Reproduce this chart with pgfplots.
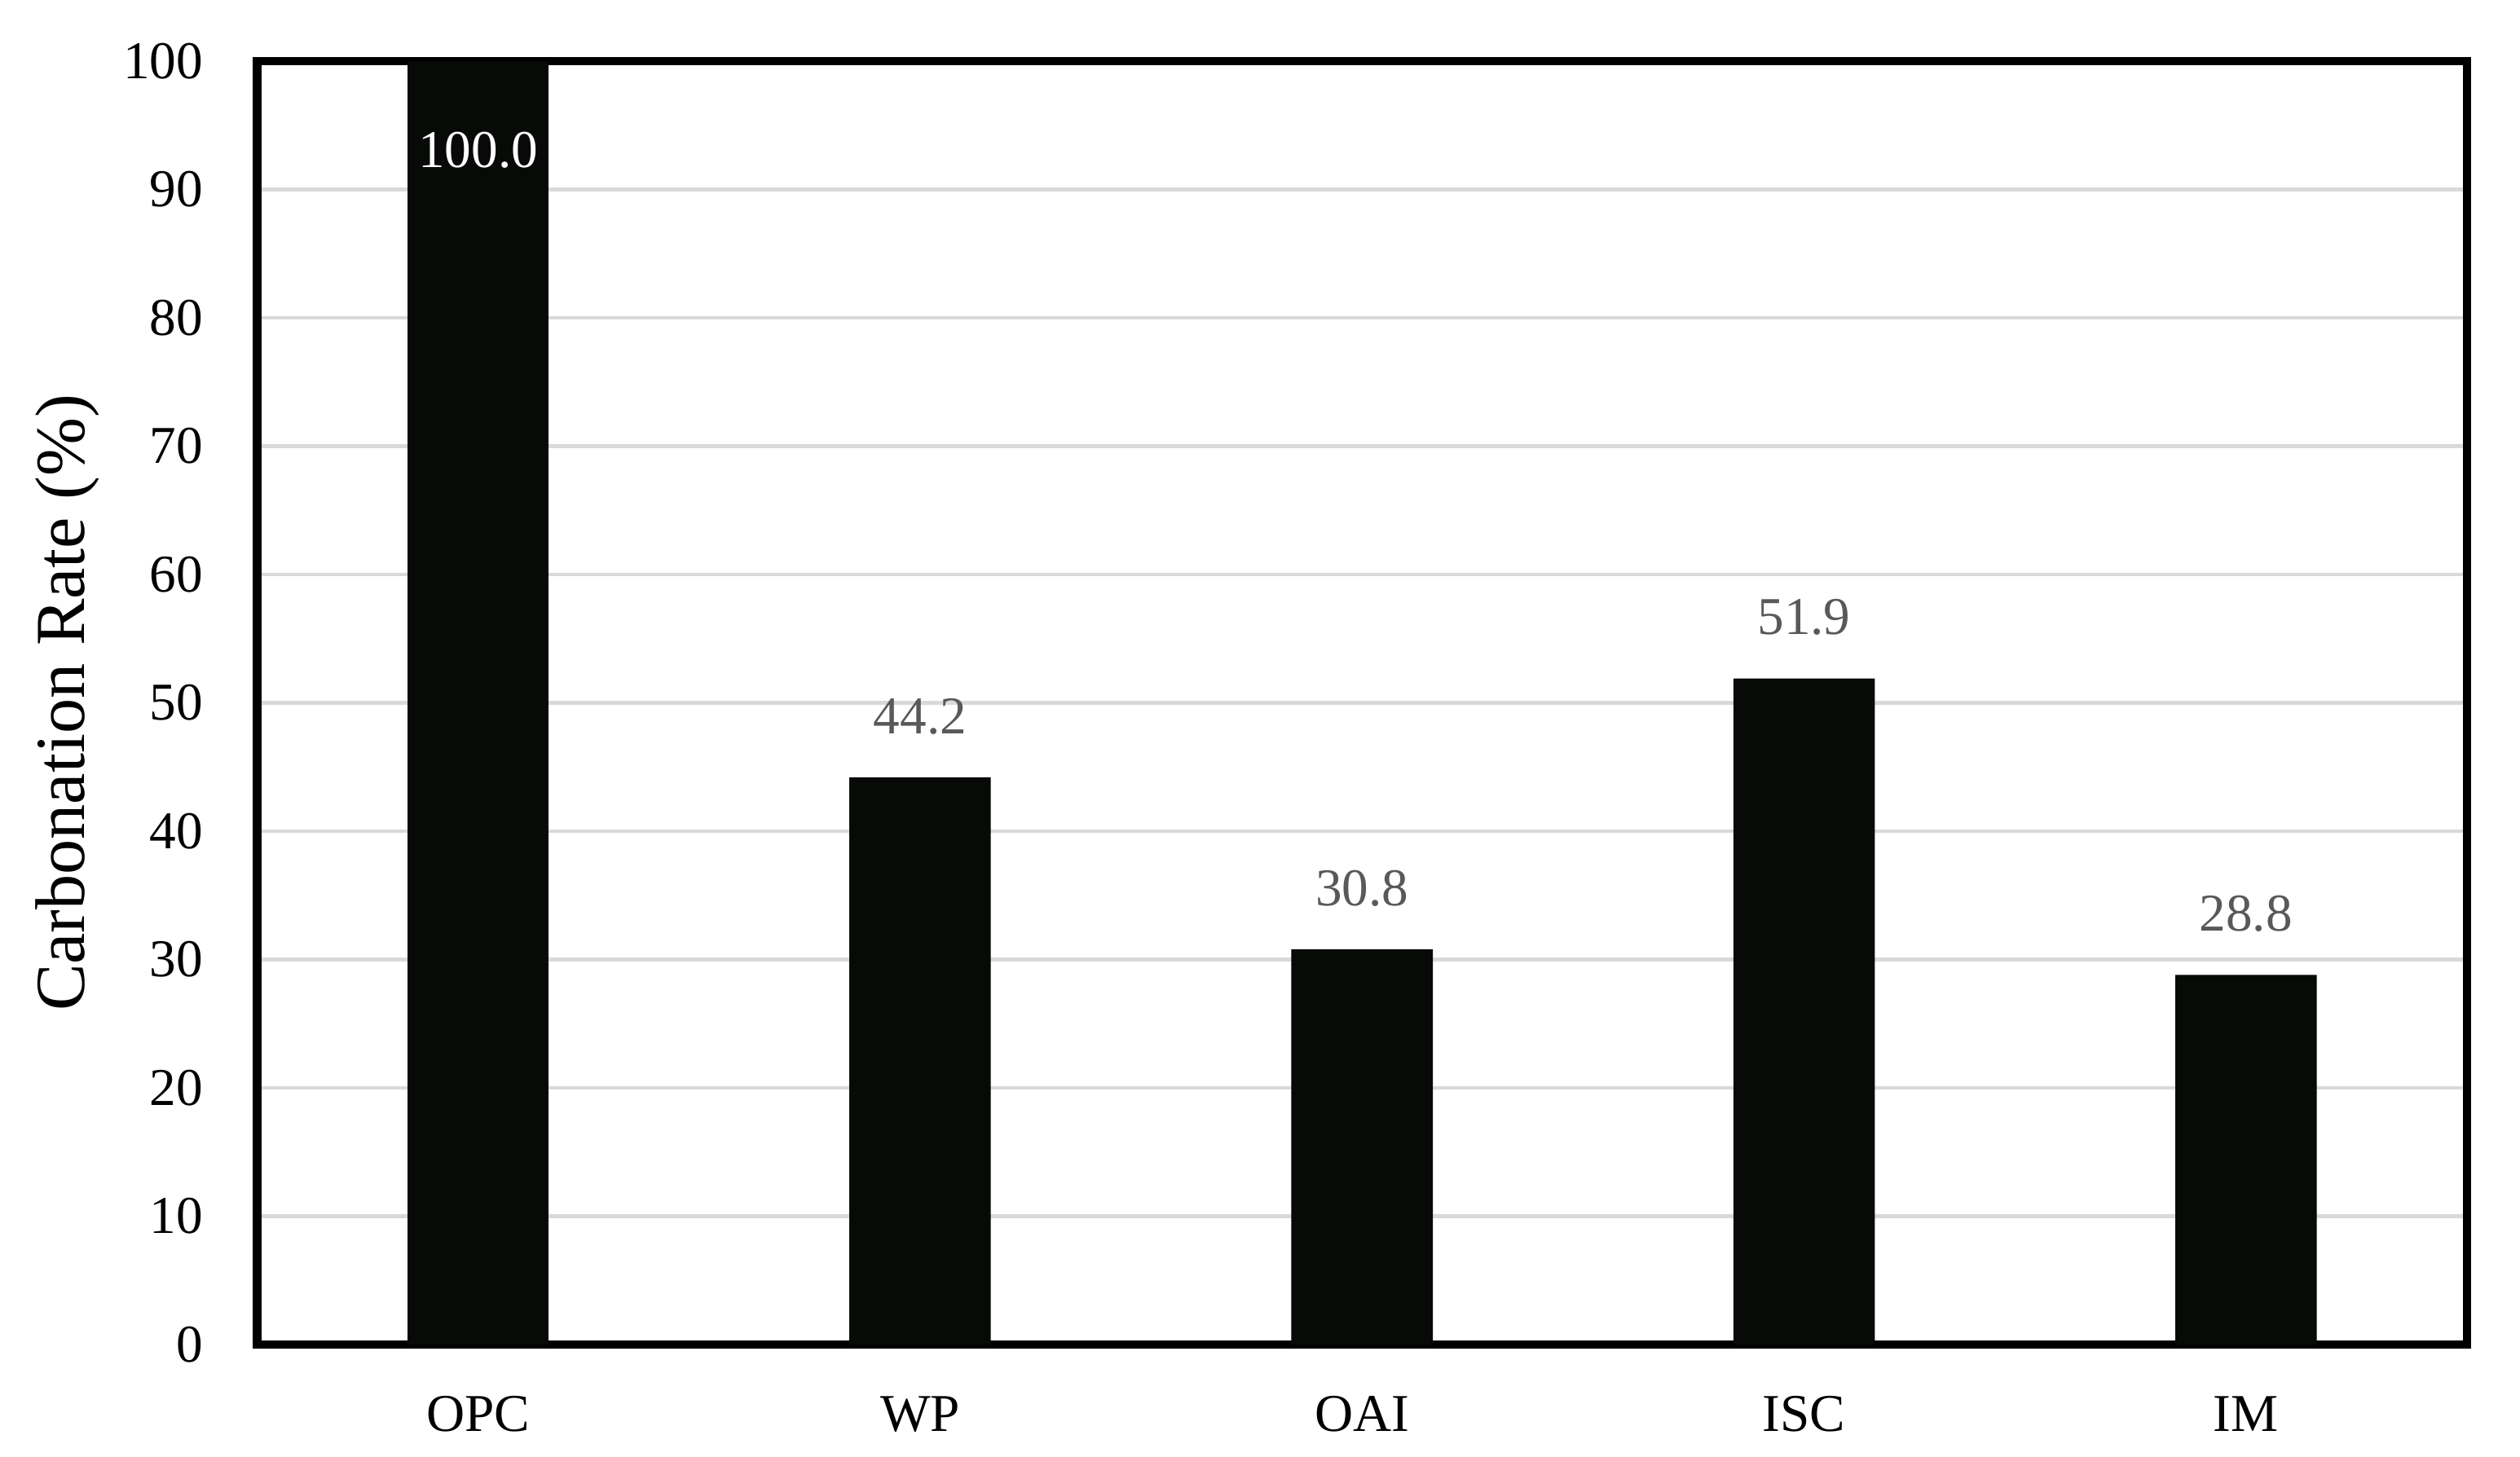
\documentclass[border=0pt]{standalone}
\usepackage{fontspec}
\setmainfont{Liberation Serif}
\usepackage{pgfplots}
\pgfplotsset{compat=1.18}
\definecolor{barblack}{HTML}{080A08}
\definecolor{gridgray}{HTML}{D9D9D9}
\definecolor{lblgray}{HTML}{595959}

\begin{document}
\begin{tikzpicture}
\begin{axis}[
  width=14.03cm, height=8.15cm, scale only axis,
  ybar, bar width=0.32,
  xmin=-0.5, xmax=4.5, ymin=0, ymax=100,
  xtick={0,1,2,3,4}, xticklabels={OPC,WP,OAI,ISC,IM},
  ytick={0,10,...,100},
  major tick length=0pt,
  ymajorgrids, grid style={gridgray, line width=0.7pt},
  axis line style={line width=1.6pt},
  /pgf/number format/assume math mode=true,
  tick label style={font=\fontsize{9.6}{12}\selectfont},
  xticklabel style={anchor=base, yshift=-15.7pt},
  yticklabel style={anchor=east, inner sep=0pt, xshift=-9.6pt},
  ylabel={Carbonation Rate (\%)},
  ylabel style={font=\fontsize{12.7}{15}\selectfont, at={(axis description cs:-0.0858,0.5)}, anchor=center},
  nodes near coords={\pgfmathprintnumber[fixed, precision=1, fixed zerofill]{\pgfplotspointmeta}},
  every node near coord/.append style={font=\fontsize{9.6}{12}\selectfont, anchor=base},
]
  \addplot[fill=barblack, draw=none, bar shift=0pt,
    every node near coord/.append style={text=white, yshift=-19.2pt}]
    coordinates {(0,100.0)};
  \addplot[fill=barblack, draw=none, bar shift=0pt,
    every node near coord/.append style={text=lblgray, yshift=7.9pt}]
    coordinates {(1,44.2) (2,30.8) (3,51.9) (4,28.8)};
  \coordinate (bl) at (rel axis cs:-0.1164,-0.0876);
  \coordinate (tr) at (rel axis cs:1.024,1.0476);
\end{axis}
\pgfresetboundingbox
\useasboundingbox (bl) rectangle (tr);
\end{tikzpicture}
\end{document}
